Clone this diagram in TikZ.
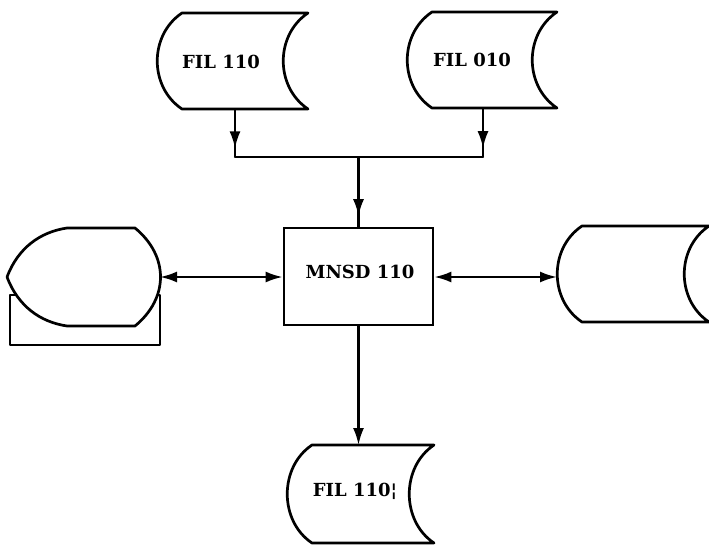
\documentclass[tikz,border=0pt]{standalone}
\usepackage{fontspec}
\setmainfont{DejaVu Serif}
\usetikzlibrary{arrows.meta,decorations.markings}
\tikzset{
  outline/.style={draw=black,line width=2.7pt,fill=white,line join=round},
  conn/.style={draw=black,line width=2.3pt},
  tip/.tip={Latex[length=17pt,width=11pt]},
  midarrow/.style={postaction={decorate},decoration={markings,mark=at position #1 with {\arrow{tip}}}},
  label/.style={font=\bfseries\fontsize{18}{21}\selectfont,inner sep=0pt},
  procbox/.style={draw=black,line width=2.7pt,minimum width=149pt,minimum height=97pt,inner sep=0pt}
}
\newcommand\fileshape[4]{%
  \draw[outline] (#1,#3) -- (#2,#3) .. controls +(-33,22) and +(-33,-22) .. (#2,#4)
    -- (#1,#4) .. controls +(-33,-22) and +(-33,22) .. (#1,#3) -- cycle;}
\begin{document}
\begin{tikzpicture}[x=1pt,y=-1pt]
\useasboundingbox (0,0) rectangle (709,546);
% files
\fileshape{182}{308}{13}{109}
\fileshape{432}{557}{12}{108}
\fileshape{582}{709}{226}{322}
\fileshape{312}{434}{445}{543}
% display shape
\draw[outline] (10,295) rectangle (160,345);
\draw[outline] (67,228) -- (135,228) .. controls +(34,28) and +(34,-28) .. (135,326)
  -- (67,326) .. controls (40,322) and (18,306) .. (7,277)
  .. controls (18,248) and (40,232) .. (67,228) -- cycle;
% text nodes
\node[label] (f1) at (221,62) {FIL 110};
\node[label] (f2) at (472,60) {FIL 010};
\node[procbox] (box) at (358.5,276.5) {};
\node[label] (mnsd) at (360,272) {MNSD 110};
\node[label] (f3) at (355,491) {FIL 110¦};
% coordinates
\coordinate (f1b) at (235,109);
\coordinate (f2b) at (483,108);
\coordinate (j1) at (235,157);
\coordinate (j2) at (483,157);
\coordinate (jm) at (358.5,157);
\coordinate (disp) at (160,277);
\coordinate (rdisk) at (557,277);
\coordinate (f3t) at (358.5,445);
% connectors
\draw[conn,midarrow=0.82] (f1b) -- (j1);
\draw[conn,midarrow=0.82] (f2b) -- (j2);
\draw[conn,line cap=round] (j1) -- (j2);
\draw[conn,midarrow=0.85] (jm) -- (box.north);
\draw[conn,{tip}-{tip}] (disp) -- (box.west |- disp);
\draw[conn,{tip}-{tip}] (box.east |- rdisk) -- (rdisk);
\draw[conn,-{tip}] (box.south) -- (f3t);
\end{tikzpicture}
\end{document}
